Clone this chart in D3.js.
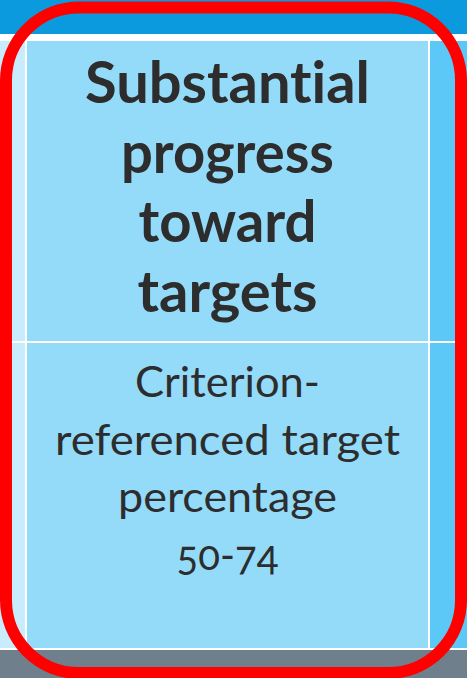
<!DOCTYPE html>
<html><head><meta charset="utf-8">
<script src="https://cdn.jsdelivr.net/npm/d3@7"></script>
<style>html,body{margin:0;padding:0;background:#fff;overflow:hidden}</style>
</head><body>
<svg id="c" width="467" height="678"></svg>
<script>
const headerLines = ["Substantial", "progress", "toward", "targets"];
const bodyLines = ["Criterion-", "referenced target", "percentage", "50-74"];

// layout (pixel widths of each line as seen)
const headerWidths = [285, 213, 178, 180];
const bodyWidths = [185, 345, 219, 102];

const W = 467, H = 678;
const svg = d3.select("#c");

const x = d3.scaleLinear().domain([0, 1]).range([27, 428]);
const cx = (x(0) + x(1)) / 2;

svg.append("rect").attr("x",0).attr("y",0).attr("width",W).attr("height",34).attr("fill","#0b9ade");
svg.append("rect").attr("x",0).attr("y",34).attr("width",W).attr("height",616).attr("fill","#ffffff");
svg.append("rect").attr("x",0).attr("y",650).attr("width",W).attr("height",H-650).attr("fill","#6f7f8b");
svg.append("rect").attr("x",0).attr("y",41).attr("width",25).attr("height",300).attr("fill","#c9ecfc");
svg.append("rect").attr("x",0).attr("y",343).attr("width",25).attr("height",305).attr("fill","#c9ecfc");
svg.append("rect").attr("x",x(0)).attr("y",41).attr("width",x(1)-x(0)).attr("height",300).attr("fill","#94dbfa");
svg.append("rect").attr("x",x(0)).attr("y",343).attr("width",x(1)-x(0)).attr("height",305).attr("fill","#94dbfa");
svg.append("rect").attr("x",430).attr("y",41).attr("width",W-430).attr("height",300).attr("fill","#5bc8f7");
svg.append("rect").attr("x",430).attr("y",343).attr("width",W-430).attr("height",305).attr("fill","#5bc8f7");

const yH = d3.scaleLinear().domain([0, 3]).range([103, 312]);
const yB = d3.scaleLinear().domain([0, 3]).range([397, 570]);

svg.selectAll("text.h").data(headerLines).join("text")
  .attr("class","h")
  .attr("x", cx).attr("y", (d,i)=>yH(i))
  .attr("text-anchor","middle")
  .attr("font-family","Lato")
  .attr("font-weight","bold")
  .attr("font-size",57)
  .attr("fill","#2d2d2d")
  .attr("textLength",(d,i)=>headerWidths[i])
  .attr("lengthAdjust","spacingAndGlyphs")
  .style("font-variant-ligatures","none")
  .text(d=>d);

svg.selectAll("text.b").data(bodyLines).join("text")
  .attr("class","b")
  .attr("x", cx).attr("y", (d,i)=>yB(i))
  .attr("text-anchor","middle")
  .attr("font-family","Lato")
  .attr("font-size",42)
  .attr("fill","#2d2d2d")
  .attr("textLength",(d,i)=>bodyWidths[i])
  .attr("lengthAdjust","spacingAndGlyphs")
  .style("font-variant-numeric","oldstyle-nums")
  .style("font-variant-ligatures","none")
  .text(d=>d);

svg.append("rect").attr("x",6).attr("y",7.5).attr("width",455).attr("height",665.5)
  .attr("rx",73).attr("ry",73)
  .attr("fill","none").attr("stroke","#ff0000").attr("stroke-width",12);
</script>
</body></html>
